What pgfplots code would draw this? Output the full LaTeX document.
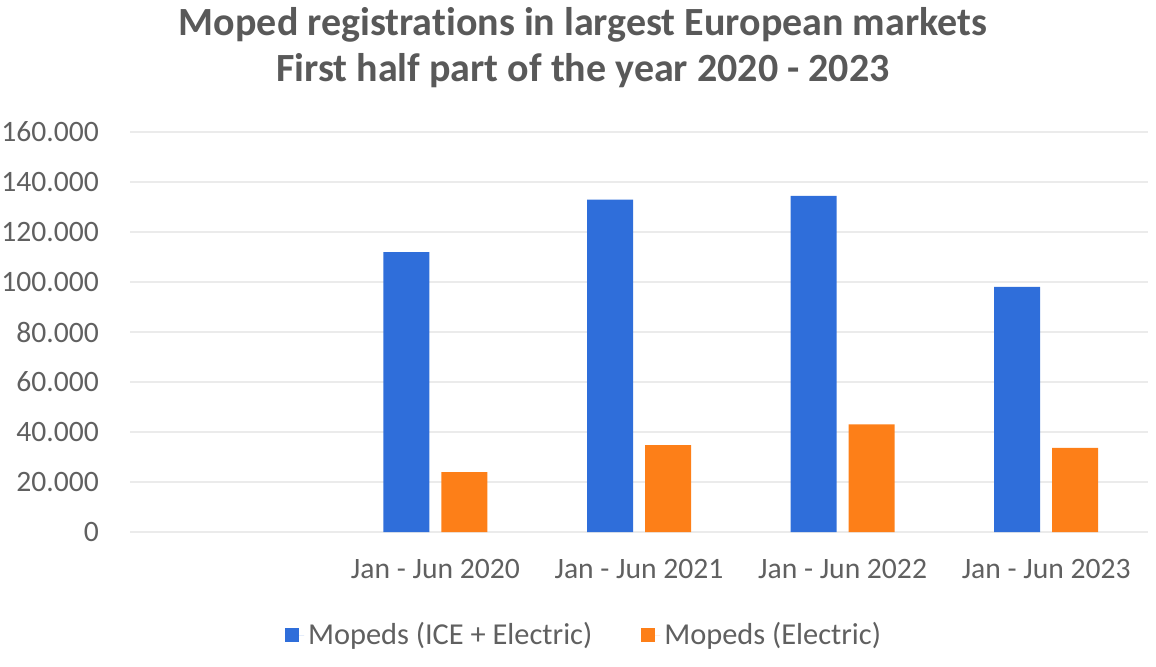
\documentclass[border=0pt]{standalone}
\usepackage{fontspec}
\setmainfont{Carlito}[Ligatures=NoCommon]
\usepackage{pgfplots}
\pgfplotsset{compat=1.18}
\definecolor{barblue}{RGB}{47,110,218}
\definecolor{barorange}{RGB}{253,127,24}
\definecolor{txtgray}{RGB}{96,96,96}
\definecolor{titlegray}{RGB}{89,89,89}
\definecolor{gridgray}{RGB}{235,235,235}
\begin{document}
\begin{tikzpicture}
\begin{axis}[
  scale only axis,
  width=509pt, height=200pt,
  xmin=-0.5, xmax=4.5,
  ymin=0, ymax=160000,
  xtick={1,2,3,4},
  xticklabels={Jan - Jun 2020, Jan - Jun 2021, Jan - Jun 2022, Jan - Jun 2023},
  ytick={0,20000,40000,60000,80000,100000,120000,140000,160000},
  scaled y ticks=false,
  /pgf/number format/.cd, fixed, 1000 sep={.}, assume math mode=true,
  /pgfplots/.cd,
  axis line style={draw=none},
  major tick length=0pt,
  ymajorgrids,
  grid style={gridgray, line width=0.8pt},
  tick label style={font=\fontsize{14.8pt}{17pt}\selectfont, text=txtgray},
  yticklabel style={xshift=-12pt},
  xticklabel style={yshift=-10pt},
  ybar, bar width=23pt,
  title={Moped registrations in largest European markets\\First half part of the year 2020 - 2023},
  title style={at={(0.445,1.18)}, anchor=center, yshift=0pt, align=center,
    font=\fontsize{20pt}{23pt}\selectfont\bfseries, text=titlegray},
  legend style={draw=none, at={(0.447,-0.2575)}, anchor=center,
    legend columns=2, font=\fontsize{15.2pt}{17pt}\selectfont, text=txtgray,
    /tikz/every even column/.append style={column sep=22.5pt}},
  legend image code/.code={\fill[#1] (0pt,-3.5pt) rectangle (7pt,3.5pt); \path (0pt,0pt) -- (9.5pt,0pt);},
]
\addplot[fill=barblue, draw=none, bar shift=-14.5pt] coordinates {(1,112000) (2,133000) (3,134500) (4,98100)};
\addlegendentry{Mopeds (ICE + Electric)}
\addplot[fill=barorange, draw=none, bar shift=14.5pt] coordinates {(1,24000) (2,34800) (3,43100) (4,33700)};
\addlegendentry{Mopeds (Electric)}
\end{axis}
\pgfresetboundingbox
\path[use as bounding box] ([shift={(-65pt,-67pt)}]current axis.south west) rectangle ([shift={(4pt,66pt)}]current axis.north east);
\end{tikzpicture}
\end{document}
